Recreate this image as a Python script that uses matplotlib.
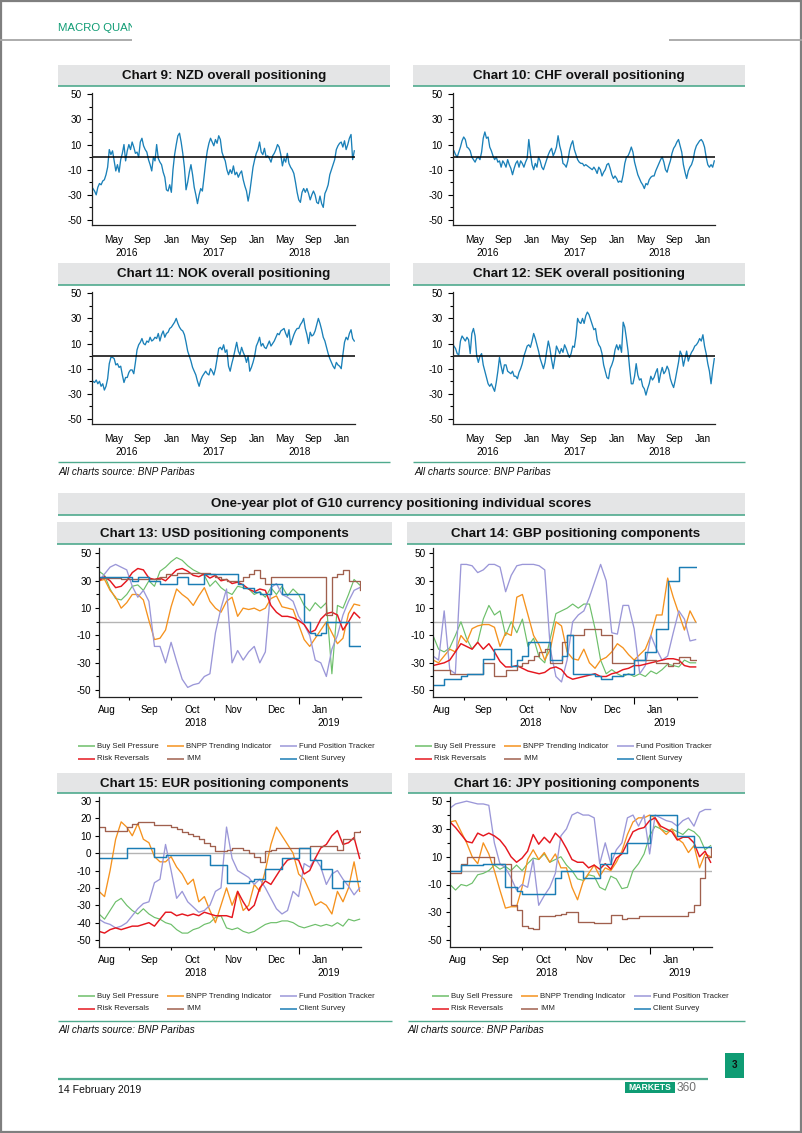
import numpy as np
import pandas as pd
import matplotlib
matplotlib.use("Agg")
import matplotlib.pyplot as plt
from matplotlib.lines import Line2D
from matplotlib.patches import Rectangle
from matplotlib.transforms import Bbox, TransformedBbox

plt.rcParams['font.family'] = ['Liberation Sans', 'DejaVu Sans']
plt.rcParams['axes.unicode_minus'] = False

# ---------------- data: overall positioning (weekly, Feb-2016 .. Feb-2019) ----------------
top_start, top_end = '2016-02-01', '2019-02-21'
top_xlim = ('2016-01-28', '2019-02-24')
top_month_dates = ['2016-05-01', '2016-09-01', '2017-01-01', '2017-05-01', '2017-09-01',
                   '2018-01-01', '2018-05-01', '2018-09-01', '2019-01-01']
top_month_labels = ['May', 'Sep', 'Jan', 'May', 'Sep', 'Jan', 'May', 'Sep', 'Jan']
top_year_dates = ['2016-06-25', '2017-07-01', '2018-07-01']
top_year_labels = ['2016', '2017', '2018']
top_major_y = [50, 30, 10, -10, -30, -50]
top_minor_y = [40, 20, 0, -20, -40]

nzd = [-25, -27, -30, -24, -21, -22, -19, -18, -14, -8,
       6, 2, 5, -3, -11, -6, -12, -2, 3, 10,
       -3, 5, 10, 6, 12, 8, 3, 4, 0, 12,
       15, 9, 6, 4, -2, -6, -11, 0, -3, 10,
       -1, -4, -6, -12, -16, -26, -27, -22, -28, -10,
       2, 10, 17, 19, 12, 3, -8, -26, -20, -12,
       -6, -14, -24, -30, -37, -30, -25, -27, -16, -4,
       5, 11, 15, 12, 9, 14, 11, 17, 14, 4,
       0, -3, -10, -14, -10, -13, -7, -14, -12, -16,
       -13, -11, -18, -23, -27, -35, -28, -18, -8, -2,
       3, 6, 12, 4, 2, 7, 0, 1, -1, -4,
       1, 3, 6, 10, 8, 2, -7, -1, -4, 3,
       -5, -8, -10, -13, -20, -28, -34, -36, -28, -25,
       -28, -25, -29, -34, -30, -27, -30, -36, -37, -31,
       -37, -40, -29, -26, -22, -14, -10, -6, -2, 6,
       9, 11, 12, 8, 13, 6, 10, 15, 18, -2,
       5]
chf = [5, 2, 0, 4, 8, 13, 16, 14, 8, 7,
       5, 0, -2, -4, -1, 0, -2, 4, 15, 20,
       15, 16, 8, 5, 1, -2, 0, -4, -3, -8,
       -3, -5, -8, -2, -6, -9, -14, -9, -5, -3,
       -8, -3, -5, -8, -4, -1, 14, 3, -6, -10,
       -5, -8, 0, -3, -8, -10, -6, -2, 2, 5,
       7, 1, 4, 8, 17, 9, 4, -5, -6, -8,
       -3, 5, 10, 13, 6, 2, -2, -4, -5, -5,
       -7, -6, -7, -8, -9, -10, -8, -10, -13, -8,
       -10, -15, -12, -10, -6, -5, -9, -14, -17, -15,
       -17, -20, -19, -20, -14, -5, 0, 1, 4, 8,
       4, -4, -9, -14, -17, -20, -22, -25, -21, -22,
       -18, -16, -15, -15, -11, -8, -5, -2, 0, -4,
       -10, -12, -7, -3, 3, 7, 9, 12, 14, 9,
       4, -6, -12, -17, -11, -8, -6, -2, 5, 9,
       11, 13, 14, 12, 8, 0, -6, -8, -6, -8,
       -3]
nok = [-20, -21, -19, -22, -20, -24, -22, -27, -24, -18,
       -6, -1, -1, -2, -7, -6, -9, -8, -15, -21,
       -17, -17, -13, -11, -11, -14, -5, 5, 9, 11,
       14, 10, 9, 12, 11, 15, 12, 13, 15, 14,
       18, 12, 17, 20, 15, 18, 19, 22, 23, 25,
       27, 30, 26, 23, 21, 20, 17, 11, 4, 0,
       -4, -9, -12, -15, -20, -24, -19, -16, -14, -12,
       -14, -15, -10, -12, -15, -10, -2, 6, 7, 5,
       9, 3, 5, -8, -12, -6, -1, 5, 11, 4,
       1, 7, 3, 0, -5, 0, -12, -9, -5, 0,
       8, 11, 15, 8, 10, 7, 6, 9, 12, 8,
       10, 12, 15, 18, 17, 20, 21, 22, 18, 15,
       21, 9, 13, 17, 20, 22, 22, 25, 27, 30,
       22, 17, 10, 19, 16, 17, 20, 25, 30, 26,
       21, 15, 12, 7, 2, -2, -5, -8, -10, -5,
       -7, -8, -10, 1, 11, 15, 13, 18, 21, 14,
       12]
sek = [8, 6, 2, 1, 12, 16, 14, 12, 15, 13,
       2, 18, 22, 16, 0, -5, 0, 2, -7, -12,
       -17, -22, -24, -22, -25, -28, -21, -12, -1, -8,
       -14, -7, -7, -12, -13, -14, -12, -16, -16, -18,
       -13, -10, -6, 0, 4, 8, 9, 7, 12, 18,
       14, 9, 4, -2, -6, -10, -5, 4, 12, 6,
       -3, -10, -2, 8, 5, 2, 6, 3, 9, 6,
       2, -1, 2, 8, 7, 16, 30, 27, 26, 30,
       26, 32, 35, 33, 29, 25, 21, 22, 13, 9,
       7, 2, -7, -12, -17, -18, -10, -7, -3, 5,
       9, 5, 9, 3, 27, 23, 14, 4, -10, -22,
       -22, -16, -6, -15, -19, -18, -24, -26, -31, -26,
       -22, -16, -19, -17, -13, -10, -21, -14, -9, -14,
       -12, -8, -11, -18, -22, -25, -19, -12, -5, 4,
       1, -8, -2, 4, -4, 0, 3, 5, 8, 9,
       11, 14, 12, 17, 8, 2, -6, -12, -22, -11,
       -2]

# ---------------- data: one-year components (every ~4 days, Aug-2018 .. Feb-2019) ----------------
comp_start, comp_end = '2018-08-10', '2019-02-14'
comp_xlim = ('2018-08-10', '2019-02-15')
comp_month_starts = ['2018-09-01', '2018-10-01', '2018-11-01', '2018-12-01', '2019-01-01', '2019-02-01']
comp_month_mids = ['2018-08-16', '2018-09-15', '2018-10-16', '2018-11-15', '2018-12-16', '2019-01-16']
comp_month_labels = ['Aug', 'Sep', 'Oct', 'Nov', 'Dec', 'Jan']
comp_year_dates = ['2018-10-19', '2019-01-23']
comp_year_labels = ['2018', '2019']
component_names = ['Buy Sell Pressure', 'BNPP Trending Indicator', 'Fund Position Tracker',
                   'Risk Reversals', 'IMM', 'Client Survey']

usd_buy_sell = [37, 34, 24, 17, 16, 20, 26, 27, 23, 30, 26, 37,
                40, 44, 47, 45, 41, 38, 36, 34, 26, 30, 25, 22,
                20, 26, 25, 24, 20, 22, 18, 25, 20, 26, 19, 24,
                20, 12, 8, 14, 10, 14, -38, 12, 10, 20, 31, 27]
usd_trend = [30, 31, 23, 18, 10, 14, 20, 20, 16, 1, -13, -12,
             -6, 11, 24, 20, 17, 12, 19, 25, 15, 10, 7, 15,
             18, 4, 10, 9, 10, 8, 10, 17, 19, 11, 10, 9,
             -2, -13, -18, -12, -6, 0, -8, -16, -12, 6, 13, 12]
usd_fund = [30, 35, 40, 42, 40, 38, 26, 18, 23, 15, -18, -18,
            -30, -15, -29, -42, -48, -46, -45, -40, -38, -8, 10, 24,
            -30, -21, -28, -22, -18, -30, -22, 25, 28, 20, 18, 15,
            4, -2, -10, -28, -30, -40, -20, -10, 5, 15, 23, 25]
usd_rr = [30, 33, 30, 25, 26, 30, 36, 39, 38, 32, 31, 32,
          30, 34, 38, 39, 37, 34, 33, 35, 32, 34, 30, 31,
          28, 29, 27, 24, 22, 24, 23, 12, 7, 4, 4, 3,
          1, -2, -8, -6, 2, 6, 7, 5, -6, 0, 7, 3]
usd_imm = [32, 32, 32, 32, 31, 31, 31, 31, 31, 31, 31, 33,
           35, 34, 36, 36, 36, 36, 36, 36, 35, 33, 31, 30,
           30, 30, 33, 35, 38, 32, 28, 33, 33, 33, 33, 33,
           33, 33, 33, 33, 33, 5, 33, 35, 38, 30, 30, 23]
usd_survey = [33, 33, 33, 33, 33, 33, 30, 33, 33, 30, 30, 28,
              28, 28, 33, 33, 28, 28, 28, 35, 35, 35, 35, 35,
              35, 28, 25, 25, 22, 20, 20, 28, 28, 20, 20, 20,
              20, 0, -8, -10, -8, 0, 0, 0, 0, -18, -18, -18]

gbp_buy_sell = [-10, -20, -22, -19, -10, 0, -12, -20, -15, 2, 12, 5,
                8, -10, 0, -8, 2, -18, -12, -26, -30, -12, 6, 8,
                10, 13, 10, 13, 13, -5, -28, -38, -35, -38, -40, -38,
                -40, -38, -40, -36, -38, -35, -31, -32, -33, -28, -30, -30]
gbp_trend = [-28, -30, -25, -20, -22, -10, -15, -5, -3, -2, -2, -4,
             -18, -8, -10, 18, 20, 5, -10, -17, -28, -20, 0, -3,
             -22, -27, -28, -20, -30, -34, -28, -26, -22, -16, -19, -24,
             -28, -24, -20, -10, 5, 5, 32, 18, 6, -6, 8, 0]
gbp_fund = [-25, -28, 8, -35, -38, 42, 42, 41, 36, 38, 42, 42,
            40, 22, 34, 41, 42, 42, 42, 41, 38, -20, -40, -44,
            -28, 0, 5, 8, 18, 30, 42, 30, -8, -9, 12, 12,
            -5, -38, -32, -10, -20, -28, -25, -8, 8, 2, -14, -13]
gbp_rr = [-32, -31, -30, -28, -22, -16, -18, -20, -15, -20, -16, -22,
          -29, -33, -33, -32, -34, -36, -37, -38, -37, -34, -33, -35,
          -40, -42, -41, -40, -39, -38, -40, -40, -38, -37, -35, -34,
          -32, -32, -31, -30, -29, -28, -27, -27, -28, -32, -33, -33]
gbp_imm = [-35, -35, -35, -38, -38, -38, -38, -38, -38, -30, -30, -40,
           -40, -35, -35, -32, -30, -28, -25, -22, -20, -30, -30, -15,
           -10, -10, -10, -5, -5, -5, -10, -10, -30, -30, -30, -30,
           -28, -28, -28, -28, -30, -30, -32, -30, -26, -26, -28, -28]
gbp_survey = [-46, -46, -42, -42, -42, -40, -38, -38, -38, -27, -27, -20,
              -20, -20, -32, -28, -25, -15, -15, -15, -15, -28, -28, -25,
              -10, -38, -38, -38, -38, -40, -42, -42, -40, -40, -38, -38,
              -28, -28, -22, -22, -5, -5, 30, 30, 40, 40, 40, 40]

eur_buy_sell = [-35, -38, -33, -28, -26, -30, -33, -35, -32, -35, -37, -38,
                -40, -41, -44, -46, -46, -44, -43, -41, -40, -37, -36, -43,
                -44, -43, -45, -46, -45, -43, -41, -40, -40, -39, -39, -40,
                -42, -43, -42, -41, -42, -41, -42, -40, -42, -38, -39, -38]
eur_trend = [-22, -25, -10, 8, 18, 15, 10, 17, 8, 6, -2, -5,
             -5, -2, -8, -12, -18, -15, -28, -25, -33, -40, -30, -20,
             -30, -22, -33, -30, -18, -22, -10, 5, 15, 10, 5, 0,
             -12, -15, -22, -30, -28, -30, -35, -22, -28, -20, -5, -22]
eur_fund = [-38, -40, -41, -43, -42, -40, -36, -32, -29, -28, -17, -15,
            5, -10, -26, -22, -28, -31, -34, -33, -30, -22, -20, 15,
            -3, -10, -12, -14, -18, -15, -20, -26, -32, -35, -33, -22,
            -25, -6, -8, -3, -8, -18, -12, -10, -15, -19, -24, -20]
eur_rr = [-45, -46, -44, -43, -44, -43, -42, -42, -41, -40, -42, -38,
          -34, -34, -36, -35, -36, -35, -36, -34, -35, -36, -36, -36,
          -37, -22, -28, -33, -30, -20, -16, -18, -13, -8, -4, -3,
          -4, -12, -10, -3, 3, 5, 10, 13, 5, 6, 9, -3]
eur_imm = [15, 13, 13, 13, 13, 15, 17, 18, 18, 18, 16, 16,
           16, 15, 14, 12, 11, 10, 8, 6, 4, 1, 1, 2,
           3, 3, 2, 0, -2, -5, 1, 2, 3, 3, 3, 3,
           3, 3, 4, 4, 4, 4, 4, 2, 8, 8, 12, 13]
eur_survey = [-3, -3, -3, -3, -3, 3, 3, 3, 3, 3, -2, -2,
              -1, -1, -1, -1, -1, -1, -1, -1, -7, -7, -7, -17,
              -17, -17, -17, -16, -15, -15, -9, -9, -9, -3, -3, -3,
              3, 3, -4, -4, -9, -9, -20, -20, -16, -16, -16, -16]

jpy_buy_sell = [-10, -14, -10, -11, -9, -3, -2, 0, 4, 1, 3, 0,
                4, 0, 5, 9, 8, 12, 6, 8, 10, 4, 0, -6,
                -7, -3, -4, -12, -14, -4, -6, -13, -12, 0, 5, 12,
                25, 32, 30, 28, 30, 28, 26, 30, 28, 24, 15, 18]
jpy_trend = [35, 36, 28, 20, 10, 5, 20, 12, 0, -14, -27, -26,
             -26, -12, 8, 15, 8, 13, 6, 12, 2, 2, -12, -21,
             -8, -2, 4, -4, 2, 0, 6, 14, 26, 35, 38, 38,
             40, 38, 30, 26, 30, 23, 20, 13, 18, 2, 12, 10]
jpy_fund = [45, 48, 49, 50, 49, 48, 48, 47, 20, 5, 2, -5,
            -14, -10, -12, 8, -25, -18, -12, -2, 25, 30, 40, 42,
            40, 40, 38, 5, 20, 5, 15, 20, 38, 40, 32, 40,
            12, 40, 38, 36, 35, 32, 36, 38, 32, 42, 44, 44]
jpy_rr = [35, 31, 26, 21, 20, 27, 25, 27, 25, 22, 17, 10,
          6, 9, 14, 26, 19, 24, 20, 27, 23, 16, 8, 6,
          6, 2, 4, 1, 5, 1, 9, 12, 20, 28, 30, 31,
          36, 38, 32, 30, 28, 22, 24, 24, 20, 10, 14, 6]
jpy_imm = [-2, -2, 5, 10, 10, 10, 10, 10, 5, 5, 5, -25,
           -28, -40, -41, -42, -33, -33, -33, -32, -31, -30, -30, -37,
           -37, -37, -38, -38, -38, -32, -32, -35, -34, -34, -33, -33,
           -33, -33, -33, -33, -33, -33, -33, -30, -25, -5, 10, 17]
jpy_survey = [0, 0, 4, 4, 4, 4, 5, 5, 5, 5, -12, -12,
              -15, -17, -17, -17, -17, -17, -17, -5, 0, 0, 0, 0,
              -5, -5, -5, 5, 5, 13, 13, 13, 20, 20, 20, 20,
              40, 40, 40, 40, 40, 25, 25, 25, 17, 17, 17, 17]

# ---------------- styling ----------------
W, H = 802, 1133
PT = 0.72  # points per pixel at 100 dpi
TOP_BLUE = '#1a80b8'
BAND = '#e4e5e6'
GREEN_LINE = '#4faa8e'
GREEN = '#0f9c74'
COMP_COLORS = ['#6dbf6a', '#f5921e', '#9b97d8', '#e5171f', '#a0604e', '#1b7db5']
COMP_LW = [0.85, 0.95, 0.95, 1.05, 0.95, 1.05]
COMP_STEP = [False, False, False, False, True, True]

fig = plt.figure(figsize=(W / 100, H / 100), dpi=100)


def add_axes_px(l, t, r, b):
    return fig.add_axes([l / W, 1 - b / H, (r - l) / W, (b - t) / H])


def fig_line(x0, x1, y0, y1, color, lw):
    fig.add_artist(Line2D([x0 / W, x1 / W], [1 - y0 / H, 1 - y1 / H], color=color, lw=lw,
                          solid_capstyle='butt'))


def fig_rect(x0, y0, x1, y1, fc, ec='none', lw=0, fill=True):
    fig.add_artist(Rectangle((x0 / W, 1 - y1 / H), (x1 - x0) / W, (y1 - y0) / H,
                             facecolor=fc, edgecolor=ec, lw=lw, fill=fill))


def fig_text(x, y, s, **kw):
    return fig.text(x / W, 1 - y / H, s, **kw)


def title_band(x0, x1, y0, y1, text):
    fig_rect(x0, y0, x1, y1, BAND)
    fig_line(x0, x1, y1, y1, GREEN_LINE, 1.2)
    fig_text((x0 + x1) / 2, (y0 + y1) / 2 + 0.5, text, ha='center', va='center',
             fontsize=9.6, fontweight='bold', color='#111111')


def style_axes(ax):
    for sp in ['top', 'right']:
        ax.spines[sp].set_visible(False)
    for sp in ['left', 'bottom']:
        ax.spines[sp].set_linewidth(0.9)
        ax.spines[sp].set_color('#222222')
    ax.set_facecolor('none')


def top_chart(l, t, r, b, values):
    ax = add_axes_px(l, t, r, b)
    dates = pd.date_range(top_start, top_end, periods=len(values))
    ax.plot(dates, values, color=TOP_BLUE, lw=0.95)
    ax.axhline(0, color='black', lw=1.1)
    ax.set_xlim(pd.Timestamp(top_xlim[0]), pd.Timestamp(top_xlim[1]))
    ax.set_ylim(-54, 51)
    ax.set_yticks(top_major_y)
    ax.set_yticklabels([str(v) for v in top_major_y])
    ax.set_yticks(top_minor_y, minor=True)
    ax.tick_params(axis='y', which='major', length=5 * PT, width=0.8, pad=5 * PT, labelsize=7.2)
    ax.tick_params(axis='y', which='minor', length=3 * PT, width=0.8)
    ax.set_xticks(pd.to_datetime(top_month_dates))
    ax.set_xticklabels(top_month_labels)
    ax.set_xticks(pd.to_datetime(['2017-01-01', '2018-01-01', '2019-01-01']), minor=True)
    ax.tick_params(axis='x', which='major', length=0, pad=10 * PT, labelsize=7.2)
    ax.tick_params(axis='x', which='minor', length=5 * PT, width=0.8)
    for d, s in zip(top_year_dates, top_year_labels):
        ax.annotate(s, xy=(pd.Timestamp(d), 0), xycoords=('data', 'axes fraction'),
                    xytext=(0, -28 * PT), textcoords='offset points', ha='center', va='center',
                    fontsize=7.2)
    style_axes(ax)
    return ax


def comp_chart(l, t, r, b, series, ylim, major_y, minor_y):
    ax = add_axes_px(l, t, r, b)
    ax.axhline(0, color='#b4b4b4', lw=1.0)
    for vals, c, lw, st in zip(series, COMP_COLORS, COMP_LW, COMP_STEP):
        dates = pd.date_range(comp_start, comp_end, periods=len(vals))
        ax.plot(dates, vals, color=c, lw=lw, drawstyle='steps-post' if st else 'default')
    ax.set_xlim(pd.Timestamp(comp_xlim[0]), pd.Timestamp(comp_xlim[1]))
    ax.set_ylim(*ylim)
    ax.set_yticks(major_y)
    ax.set_yticklabels([str(v) for v in major_y])
    if minor_y:
        ax.set_yticks(minor_y, minor=True)
    ax.tick_params(axis='y', which='major', length=4.5 * PT, width=0.8, pad=3 * PT, labelsize=7.2)
    ax.tick_params(axis='y', which='minor', length=3 * PT, width=0.8)
    ax.set_xticks(pd.to_datetime(comp_month_starts))
    ax.set_xticklabels([''] * len(comp_month_starts))
    ax.tick_params(axis='x', which='major', length=3 * PT, width=0.8)
    for tk, d in zip(ax.xaxis.get_major_ticks(), comp_month_starts):
        if d.endswith('01-01'):
            tk.tick1line.set_markersize(7 * PT)
    ax.set_xticks(pd.to_datetime(comp_month_mids), minor=True)
    ax.set_xticklabels(comp_month_labels, minor=True)
    ax.tick_params(axis='x', which='minor', length=0, pad=8 * PT, labelsize=7.2)
    for d, s in zip(comp_year_dates, comp_year_labels):
        ax.annotate(s, xy=(pd.Timestamp(d), 0), xycoords=('data', 'axes fraction'),
                    xytext=(0, -26 * PT), textcoords='offset points', ha='center', va='center',
                    fontsize=7.2)
    style_axes(ax)
    return ax


def comp_legend(x_off, y_row1):
    cols = [78, 167, 280]
    order = [(0, 0, 0), (1, 0, 1), (2, 0, 2), (3, 1, 0), (4, 1, 1), (5, 1, 2)]
    for idx, row, col in order:
        x0 = cols[col] + x_off
        y = y_row1 + row * 13
        fig_line(x0, x0 + 17, y, y, COMP_COLORS[idx], 1.1)
        fig_text(x0 + 19, y, component_names[idx], ha='left', va='center', fontsize=5.6,
                 color='#222222')


# ---------------- page frame ----------------
fig_rect(0.5, 0.5, W - 1, H - 1, 'none', ec='#7f7f7f', lw=1.6, fill=False)
hdr = fig_text(58, 28, 'MACRO QUANT', ha='left', va='center', fontsize=8.2, color=GREEN)
hdr.set_clip_box(TransformedBbox(Bbox([[0, 0], [132 / W, 1]]), fig.transFigure))
hdr.set_clip_on(True)
fig_line(0, 132, 40, 40, '#a6a6a6', 1.3)
fig_line(669, W, 40, 40, '#a6a6a6', 1.3)

# ---------------- top section ----------------
title_band(58, 390, 65, 86, 'Chart 9: NZD overall positioning')
title_band(413, 745, 65, 86, 'Chart 10: CHF overall positioning')
title_band(58, 390, 263, 285, 'Chart 11: NOK overall positioning')
title_band(413, 745, 263, 285, 'Chart 12: SEK overall positioning')

top_chart(92, 93, 355, 225, nzd)
top_chart(453, 93, 715, 225, chf)
top_chart(92, 292, 355, 424, nok)
top_chart(453, 292, 715, 424, sek)

fig_line(58, 390, 462, 462, GREEN_LINE, 1.0)
fig_line(413, 745, 462, 462, GREEN_LINE, 1.0)
fig_text(58, 472, 'All charts source: BNP Paribas', ha='left', va='center', fontsize=7.2,
         style='italic', color='#111111')
fig_text(415, 472, 'All charts source: BNP Paribas', ha='left', va='center', fontsize=7.2,
         style='italic', color='#111111')

# ---------------- bottom section ----------------
title_band(58, 745, 493, 515, 'One-year plot of G10 currency positioning individual scores')
title_band(57, 392, 522, 544, 'Chart 13: USD positioning components')
title_band(407, 745, 522, 544, 'Chart 14: GBP positioning components')
title_band(57, 392, 773, 793, 'Chart 15: EUR positioning components')
title_band(408, 745, 773, 793, 'Chart 16: JPY positioning components')

y5 = [50, 30, 10, -10, -30, -50]
y5m = [40, 20, 0, -20, -40]
comp_chart(99, 548, 361, 697,
           [usd_buy_sell, usd_trend, usd_fund, usd_rr, usd_imm, usd_survey], (-55, 54), y5, y5m)
comp_chart(433, 548, 697, 697,
           [gbp_buy_sell, gbp_trend, gbp_fund, gbp_rr, gbp_imm, gbp_survey], (-55, 54), y5, y5m)
comp_chart(99, 797, 361, 947,
           [eur_buy_sell, eur_trend, eur_fund, eur_rr, eur_imm, eur_survey], (-54, 32.3),
           [30, 20, 10, 0, -10, -20, -30, -40, -50], None)
comp_chart(450, 797, 712, 947,
           [jpy_buy_sell, jpy_trend, jpy_fund, jpy_rr, jpy_imm, jpy_survey], (-55, 53), y5, y5m)

comp_legend(0, 746)
comp_legend(337, 746)
comp_legend(0, 996)
comp_legend(354, 996)

fig_line(58, 392, 1021, 1021, GREEN_LINE, 1.0)
fig_line(408, 745, 1021, 1021, GREEN_LINE, 1.0)
fig_text(58, 1030, 'All charts source: BNP Paribas', ha='left', va='center', fontsize=7.2,
         style='italic', color='#111111')
fig_text(408, 1030, 'All charts source: BNP Paribas', ha='left', va='center', fontsize=7.2,
         style='italic', color='#111111')

# ---------------- footer ----------------
fig_rect(725, 1053, 744, 1078, GREEN)
fig_text(734.5, 1065.5, '3', ha='center', va='center', fontsize=7, fontweight='bold', color='#111111')
fig_line(58, 708, 1079, 1079, GREEN_LINE, 1.6)
fig_text(58, 1090, '14 February 2019', ha='left', va='center', fontsize=7.6, color='#111111')
fig_rect(625, 1082, 675, 1093, GREEN)
fig_text(650, 1087.5, 'MARKETS', ha='center', va='center', fontsize=6.2, fontweight='bold',
         color='white')
fig_text(677, 1088, '360', ha='left', va='center', fontsize=8.6, color='#707070')

fig.savefig('out.png', dpi=100)
